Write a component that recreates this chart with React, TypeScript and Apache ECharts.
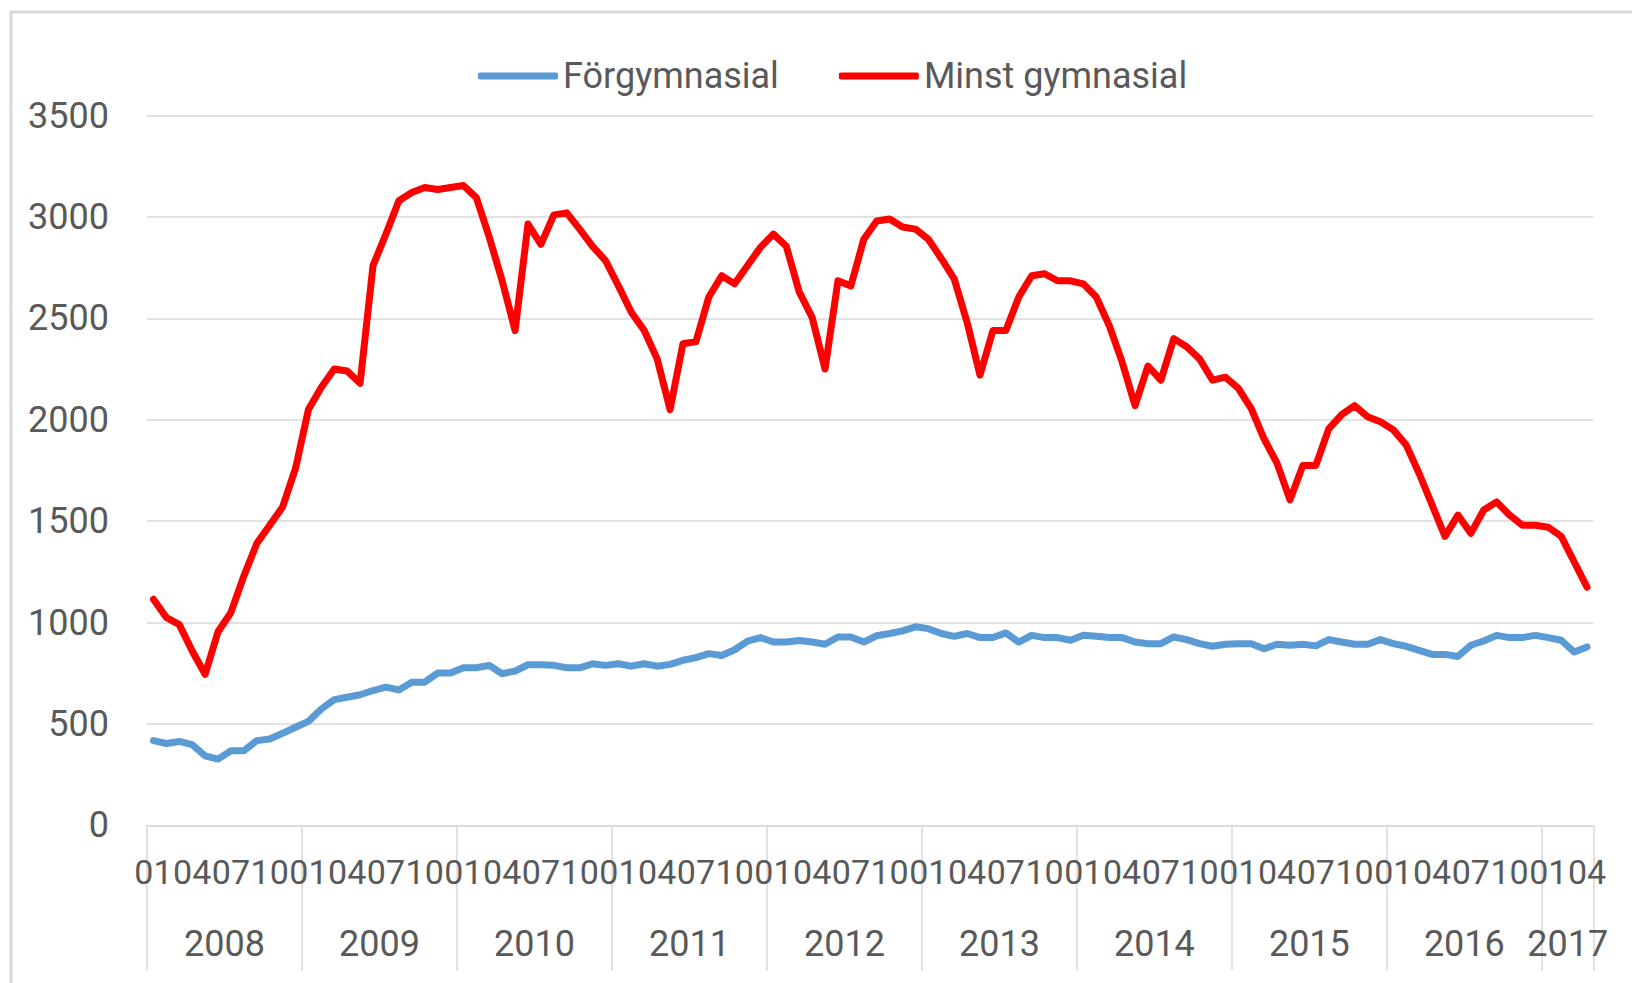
import React, { useEffect, useRef } from "react";
import * as echarts from "echarts";

const years = ["2008", "2009", "2010", "2011", "2012", "2013", "2014", "2015", "2016", "2017"];
const monthsPerYear = [12, 12, 12, 12, 12, 12, 12, 12, 12, 4];
const monthCodes = ["01", "02", "03", "04", "05", "06", "07", "08", "09", "10", "11", "12"];

const forgymnasial = [
  418, 404, 414, 398, 343, 327, 368, 368, 418, 426, 454, 484,
  513, 574, 620, 632, 644, 665, 682, 668, 706, 706, 751, 751,
  777, 777, 789, 748, 761, 792, 792, 789, 777, 777, 797, 789,
  797, 785, 797, 785, 794, 814, 827, 847, 838, 866, 909, 926,
  904, 904, 912, 904, 893, 929, 929, 904, 935, 946, 959, 979,
  970, 946, 932, 946, 926, 926, 949, 904, 937, 926, 926, 913,
  937, 932, 926, 926, 904, 896, 896, 929, 916, 896, 883, 893,
  896, 896, 871, 893, 888, 893, 885, 916, 904, 893, 893, 916,
  896, 883, 863, 843, 843, 833, 888, 909, 937, 926, 926, 937,
  926, 913, 855, 880,
];

const minstGymnasial = [
  1115, 1025, 990, 860, 745, 955, 1050, 1230, 1390, 1480, 1570, 1760,
  2050, 2160, 2250, 2240, 2180, 2760, 2915, 3080, 3120, 3145, 3135, 3145,
  3155, 3095, 2900, 2685, 2440, 2965, 2865, 3010, 3020, 2940, 2855, 2785,
  2660, 2530, 2440, 2300, 2050, 2375, 2385, 2605, 2710, 2670, 2760, 2850,
  2915, 2855, 2630, 2505, 2250, 2685, 2660, 2890, 2980, 2990, 2950, 2940,
  2890, 2795, 2695, 2480, 2220, 2440, 2440, 2605, 2710, 2720, 2685, 2685,
  2670, 2605, 2465, 2285, 2070, 2265, 2195, 2400, 2360, 2300, 2195, 2210,
  2155, 2055, 1905, 1785, 1605, 1775, 1775, 1955, 2025, 2070, 2015, 1990,
  1950, 1875, 1735, 1580, 1425, 1530, 1440, 1555, 1595, 1530, 1480, 1480,
  1470, 1425, 1300, 1175,
];

const yTicks = { min: 0, max: 3500, interval: 500 };

const FONT = "Roboto, 'Liberation Sans', sans-serif";
const TEXT = "#595959";
const GRID = "#d9d9d9";

export default function App() {
  const ref = useRef<HTMLDivElement>(null);

  useEffect(() => {
    if (!ref.current) return;
    const chart = echarts.init(ref.current, undefined, { renderer: "svg" });

    const categories: string[] = [];
    const yearCenters: Record<number, string> = {};
    let start = 0;
    years.forEach((y, k) => {
      const n = monthsPerYear[k];
      for (let m = 0; m < n; m++) categories.push(y + "-" + monthCodes[m]);
      yearCenters[start + n / 2] = y;
      start += n;
    });
    const total = categories.length;

    chart.setOption({
      animation: false,
      backgroundColor: "#ffffff",
      textStyle: { fontFamily: FONT },
      graphic: [
        {
          type: "rect",
          shape: { x: 11, y: 12, width: 1700, height: 1100 },
          style: { fill: "none", stroke: GRID, lineWidth: 3 },
          silent: true,
        },
      ],
      grid: { left: 147, right: 38.5, top: 115.5, bottom: 157.6 },
      legend: {
        left: 473,
        top: 53,
        icon: "roundRect",
        itemWidth: 80,
        itemHeight: 7,
        itemGap: 60,
        textStyle: { fontSize: 36, color: TEXT, fontFamily: FONT },
        data: ["Förgymnasial", "Minst gymnasial"],
      },
      xAxis: [
        {
          type: "category",
          data: categories,
          boundaryGap: true,
          axisLine: { show: true, lineStyle: { color: GRID, width: 1.5 } },
          axisTick: {
            show: true,
            interval: (i: number) => i % 12 === 0,
            length: 145,
            lineStyle: { color: GRID, width: 1.5 },
          },
          axisLabel: {
            interval: (i: number) => i % 3 === 0,
            formatter: (v: string) => v.slice(5),
            fontSize: 34,
            color: TEXT,
            fontFamily: FONT,
            margin: 30,
            showMinLabel: true,
            showMaxLabel: true,
            hideOverlap: false,
          },
          splitLine: { show: false },
        },
        {
          type: "value",
          min: 0,
          max: total,
          interval: 2,
          position: "bottom",
          axisLine: { show: false },
          axisTick: { show: false },
          splitLine: { show: false },
          axisLabel: {
            formatter: (v: number) => yearCenters[v] ?? "",
            fontSize: 36,
            color: TEXT,
            fontFamily: FONT,
            margin: 101,
            showMinLabel: true,
            showMaxLabel: true,
          },
        },
      ],
      yAxis: {
        type: "value",
        min: yTicks.min,
        max: yTicks.max,
        interval: yTicks.interval,
        axisLine: { show: false },
        axisTick: { show: false },
        axisLabel: {
          fontSize: 36,
          color: TEXT,
          fontFamily: FONT,
          margin: 38,
          formatter: (v: number) => String(v),
        },
        splitLine: { lineStyle: { color: GRID, width: 1.5 } },
      },
      series: [
        {
          name: "Förgymnasial",
          type: "line",
          xAxisIndex: 0,
          data: forgymnasial,
          showSymbol: false,
          symbol: "none",
          color: "#5B9BD5",
          lineStyle: { width: 7, color: "#5B9BD5", join: "round", cap: "round" },
        },
        {
          name: "Minst gymnasial",
          type: "line",
          xAxisIndex: 0,
          data: minstGymnasial,
          showSymbol: false,
          symbol: "none",
          color: "#FF0000",
          lineStyle: { width: 7, color: "#FF0000", join: "round", cap: "round" },
        },
      ],
    });

    return () => chart.dispose();
  }, []);

  return (
    <div
      ref={ref}
      style={{ position: "absolute", left: 0, top: 0, width: 1632, height: 983, background: "#fff" }}
    />
  );
}
